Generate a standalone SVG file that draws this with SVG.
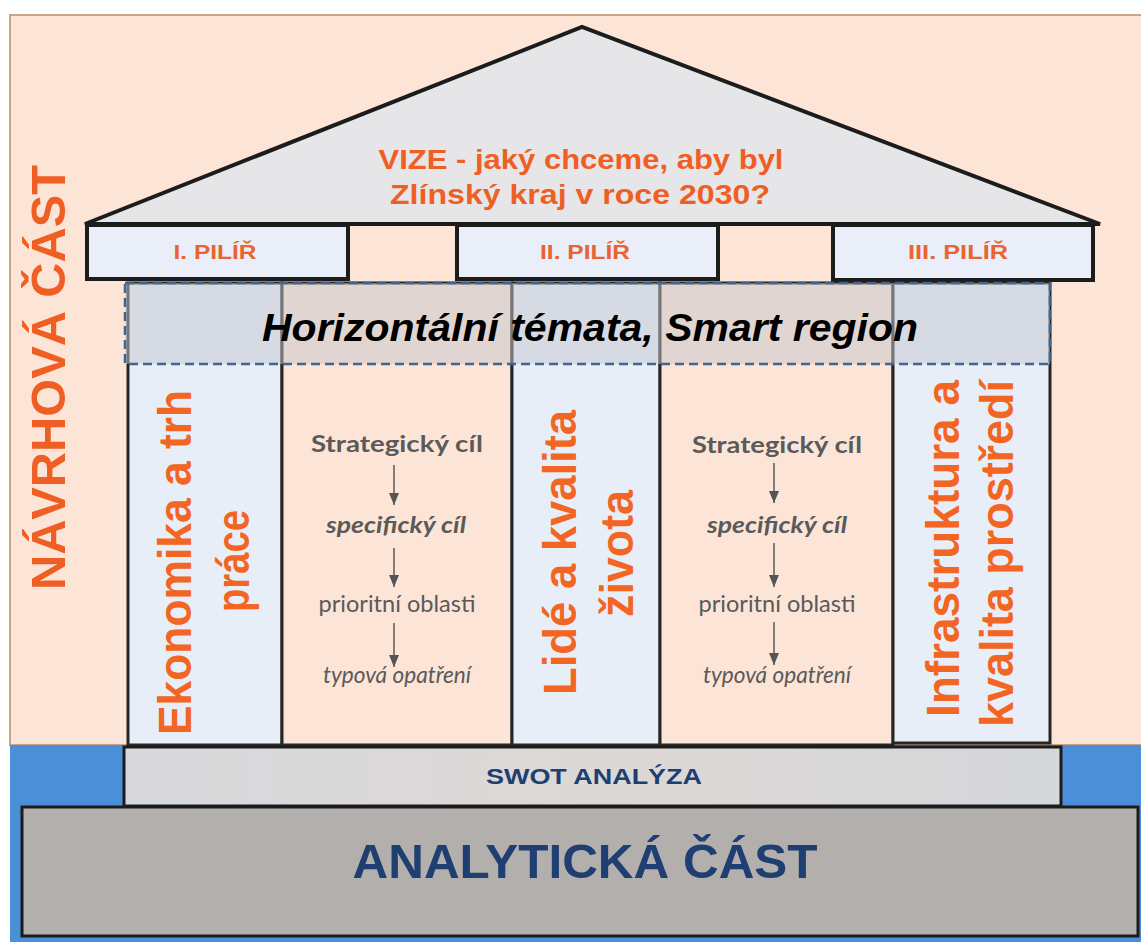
<svg xmlns="http://www.w3.org/2000/svg" width="1141" height="942" viewBox="0 0 1141 942">
<defs>
<style>
.bold{font-family:"Liberation Sans",Arial,sans-serif;font-weight:bold}
.orange{fill:#ef5f24}
.navy{fill:#1f3e72}
.pillarText{font-family:"Liberation Sans",Arial,sans-serif;font-weight:bold;font-size:47px;fill:#f26522}
.cap{fill:#e9eef8;stroke:#1c1c1c;stroke-width:4}
.capText{font-family:"Liberation Sans",Arial,sans-serif;font-weight:bold;font-size:21px;fill:#ea6431;text-anchor:middle}
.col{fill:#e8eef8;stroke:#262626;stroke-width:3}
.gap{fill:#fce5d6;stroke:#262626;stroke-width:3}
.mid{font-family:Lato,"Open Sans",sans-serif;font-size:23px;fill:#5a5a5a;text-anchor:middle}
.arrow{stroke:#5a5a5a;stroke-width:1.5;fill:none;marker-end:url(#head)}
</style>
<marker id="head" viewBox="0 0 12 10" refX="12" refY="5" markerWidth="12" markerHeight="10" markerUnits="userSpaceOnUse" orient="auto">
<path d="M0,0 L12,5 L0,10 Z" fill="#555"/>
</marker>
<linearGradient id="swotGrad" x1="0" y1="0" x2="1" y2="0">
<stop offset="0" stop-color="#d8d9dc"/>
<stop offset="0.5" stop-color="#dcd8d6"/>
<stop offset="1" stop-color="#d6d7da"/>
</linearGradient>
</defs>

<g id="background">
<rect x="10" y="15" width="1135" height="730" fill="#fce5d6" stroke="#c8a48a" stroke-width="2"/>
<rect x="10" y="745" width="1131" height="197" fill="#4b8fd8"/>
</g>

<g id="navrhova-label">
<text class="bold orange" font-size="48" transform="translate(65,590) rotate(-90)" textLength="425" lengthAdjust="spacingAndGlyphs">NÁVRHOVÁ ČÁST</text>
</g>

<g id="roof">
<polygon points="85,224 582,27 1100,224" fill="#e6e6e8" stroke="#1c1c1c" stroke-width="4" stroke-linejoin="miter"/>
<text class="bold orange" font-size="27" x="581" y="169" text-anchor="middle" textLength="405" lengthAdjust="spacingAndGlyphs">VIZE - jaký chceme, aby byl</text>
<text class="bold orange" font-size="27" x="580" y="204" text-anchor="middle" textLength="380" lengthAdjust="spacingAndGlyphs">Zlínský kraj v roce 2030?</text>
</g>

<g id="caps">
<g id="pilir1">
<rect class="cap" x="87" y="225" width="261" height="54"/>
<text class="capText" x="215" y="259" textLength="83" lengthAdjust="spacingAndGlyphs">I. PILÍŘ</text>
</g>
<g id="pilir2">
<rect class="cap" x="457" y="225" width="261" height="54"/>
<text class="capText" x="585" y="259" textLength="90" lengthAdjust="spacingAndGlyphs">II. PILÍŘ</text>
</g>
<g id="pilir3">
<rect class="cap" x="833" y="225" width="260" height="55"/>
<text class="capText" x="958" y="259" textLength="100" lengthAdjust="spacingAndGlyphs">III. PILÍŘ</text>
</g>
</g>

<g id="columns">
<g id="col-ekonomika">
<rect class="col" x="128" y="283" width="154" height="462"/>
</g>
<g id="gap1">
<rect class="gap" x="282" y="283" width="230" height="462"/>
</g>
<g id="col-lide">
<rect class="col" x="512" y="283" width="148" height="462"/>
</g>
<g id="gap2">
<rect class="gap" x="660" y="283" width="233" height="462"/>
</g>
<g id="col-infra">
<rect class="col" x="893" y="283" width="157" height="460"/>
</g>
</g>

<g id="horizontal-band">
<rect x="125" y="283" width="925" height="81" fill="#c4c6cc" fill-opacity="0.5" stroke="#3f6590" stroke-width="2.5" stroke-dasharray="9 5"/>
<text class="bold" font-style="italic" font-size="39" x="590" y="341" text-anchor="middle" fill="#000" textLength="656" lengthAdjust="spacingAndGlyphs">Horizontální témata, Smart region</text>
</g>

<g id="pillar-labels">
<text class="pillarText" transform="translate(191,735) rotate(-90)" textLength="345" lengthAdjust="spacingAndGlyphs">Ekonomika a trh</text>
<text class="pillarText" transform="translate(249,612) rotate(-90)" textLength="102" lengthAdjust="spacingAndGlyphs">práce</text>
<text class="pillarText" transform="translate(576,695) rotate(-90)" textLength="285" lengthAdjust="spacingAndGlyphs">Lidé a kvalita</text>
<text class="pillarText" transform="translate(633,617) rotate(-90)" textLength="127" lengthAdjust="spacingAndGlyphs">života</text>
<text class="pillarText" transform="translate(959,717) rotate(-90)" textLength="337" lengthAdjust="spacingAndGlyphs">Infrastruktura a</text>
<text class="pillarText" transform="translate(1013,727) rotate(-90)" textLength="347" lengthAdjust="spacingAndGlyphs">kvalita prostředí</text>
</g>

<g id="hierarchy-left">
<text class="mid" font-weight="bold" x="397" y="452" textLength="172" lengthAdjust="spacingAndGlyphs">Strategický cíl</text>
<text class="mid" font-weight="bold" font-style="italic" x="396" y="533" textLength="140" lengthAdjust="spacingAndGlyphs">specifický cíl</text>
<text class="mid" x="397" y="612" textLength="157" lengthAdjust="spacingAndGlyphs">prioritní oblasti</text>
<text class="mid" font-style="italic" x="397" y="683" textLength="148" lengthAdjust="spacingAndGlyphs">typová opatření</text>
</g>
<g id="hierarchy-right">
<text class="mid" font-weight="bold" x="777" y="453" textLength="170" lengthAdjust="spacingAndGlyphs">Strategický cíl</text>
<text class="mid" font-weight="bold" font-style="italic" x="777" y="533" textLength="140" lengthAdjust="spacingAndGlyphs">specifický cíl</text>
<text class="mid" x="777" y="612" textLength="157" lengthAdjust="spacingAndGlyphs">prioritní oblasti</text>
<text class="mid" font-style="italic" x="777" y="683" textLength="148" lengthAdjust="spacingAndGlyphs">typová opatření</text>
</g>

<g id="connectors">
<line class="arrow" x1="394" y1="465" x2="394" y2="505"/>
<line class="arrow" x1="394" y1="548" x2="394" y2="587"/>
<line class="arrow" x1="394" y1="623" x2="394" y2="667"/>
<line class="arrow" x1="774" y1="463" x2="774" y2="503"/>
<line class="arrow" x1="774" y1="543" x2="774" y2="587"/>
<line class="arrow" x1="774" y1="622" x2="774" y2="665"/>
</g>

<g id="swot">
<rect x="124" y="747" width="937" height="59" fill="url(#swotGrad)" stroke="#1c1c1c" stroke-width="3"/>
<text class="bold navy" font-size="22" x="594" y="784" text-anchor="middle" textLength="216" lengthAdjust="spacingAndGlyphs">SWOT ANALÝZA</text>
</g>

<g id="analyticka">
<rect x="22" y="807" width="1116" height="129" fill="#b3afac" stroke="#1c1c1c" stroke-width="3"/>
<text class="bold navy" font-size="48" x="585" y="878" text-anchor="middle" textLength="465" lengthAdjust="spacingAndGlyphs">ANALYTICKÁ ČÁST</text>
</g>
</svg>
